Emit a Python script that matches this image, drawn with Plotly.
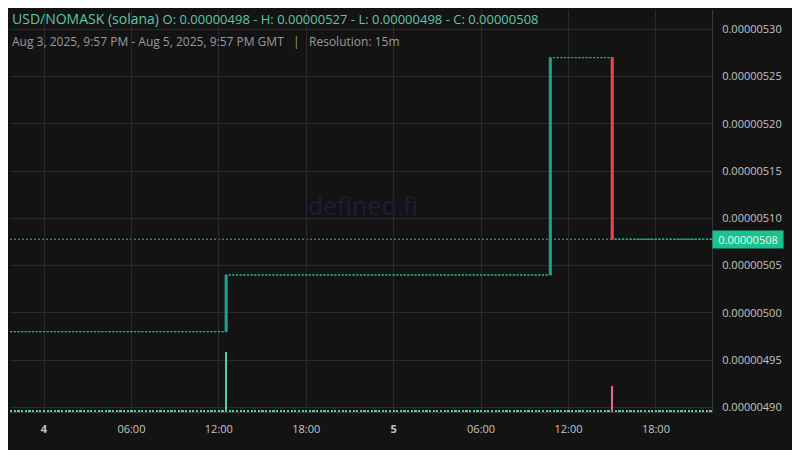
import pandas as pd
import plotly.graph_objects as go

# ---- data ----
first_candle = "2025-08-03 21:45"
last_candle = "2025-08-05 21:45"
start_price = 4.98e-6
move_times = ["2025-08-04 12:30", "2025-08-05 10:45", "2025-08-05 15:00"]
move_open = [4.98e-6, 5.04e-6, 5.27e-6]
move_close = [5.04e-6, 5.27e-6, 5.0778e-6]
move_volume = [1490, 40, 650]
flat_volume = 40

x_tickvals = ["2025-08-04 00:00", "2025-08-04 06:00", "2025-08-04 12:00", "2025-08-04 18:00",
              "2025-08-05 00:00", "2025-08-05 06:00", "2025-08-05 12:00", "2025-08-05 18:00"]
x_ticktext = ["<b>4</b>", "06:00", "12:00", "18:00", "<b>5</b>", "06:00", "12:00", "18:00"]
y_tickvals = [4.90e-6, 4.95e-6, 5.00e-6, 5.05e-6, 5.10e-6, 5.15e-6, 5.20e-6, 5.25e-6, 5.30e-6]
x_range = ["2025-08-03 21:40", "2025-08-05 21:51"]
y_range = [4.895e-6, 5.3204e-6]

# ---- build candles (flat slots keep the previous close) ----
times = pd.date_range(first_candle, last_candle, freq="15min")
moves = {pd.Timestamp(t): (o, c, v) for t, o, c, v in zip(move_times, move_open, move_close, move_volume)}
opens, closes, vols = [], [], []
last = start_price
for t in times:
    if t in moves:
        o, c, v = moves[t]
    else:
        o, c, v = last, last, flat_volume
    opens.append(o); closes.append(c); vols.append(v)
    last = c
highs = [max(o, c) for o, c in zip(opens, closes)]
lows = [min(o, c) for o, c in zip(opens, closes)]

up_idx = [i for i in range(len(times)) if closes[i] >= opens[i]]
dn_idx = [i for i in range(len(times)) if closes[i] < opens[i]]

TEAL = "#1fa58c"
RED = "#f0474f"
BG = "#131313"
GRID = "#2a2a2a"

fig = go.Figure()

fig.add_trace(go.Bar(
    x=times, y=vols, yaxis="y2",
    marker=dict(color=["#58c7ab" if closes[i] >= opens[i] else "#e9697f" for i in range(len(times))],
                line=dict(width=0)),
    width=15 * 60 * 1000 * 0.6, showlegend=False, hoverinfo="skip"))

def pick(arr, idx):
    return [arr[i] for i in idx]

fig.add_trace(go.Candlestick(
    x=pick(times, up_idx), open=pick(opens, up_idx), high=pick(highs, up_idx),
    low=pick(lows, up_idx), close=pick(closes, up_idx),
    increasing=dict(line=dict(color=TEAL, width=1), fillcolor=TEAL),
    decreasing=dict(line=dict(color=TEAL, width=1), fillcolor=TEAL),
    showlegend=False))
fig.add_trace(go.Candlestick(
    x=pick(times, dn_idx), open=pick(opens, dn_idx), high=pick(highs, dn_idx),
    low=pick(lows, dn_idx), close=pick(closes, dn_idx),
    increasing=dict(line=dict(color=RED, width=1), fillcolor=RED),
    decreasing=dict(line=dict(color=RED, width=1), fillcolor=RED),
    showlegend=False))

last_close = closes[-1]
fig.add_shape(type="line", xref="paper", x0=0, x1=1, yref="y", y0=last_close, y1=last_close,
              line=dict(color="#1fbf91", width=1, dash="2px,2px"), layer="below")

font = "Open Sans"
anns = [
    dict(x=0, y=(412 - 19) / 402, xanchor="left", yanchor="middle",
         text="<span style='font-size:14px'>USD/NOMASK (solana)</span> "
              "<span style='font-size:13px'>O: 0.00000498 - H: 0.00000527 - L: 0.00000498 - C: 0.00000508</span>",
         font=dict(color="#5cc8a8", family=font, size=14)),
    dict(x=0, y=(412 - 41) / 402, xanchor="left", yanchor="middle",
         text="Aug 3, 2025, 9:57 PM - Aug 5, 2025, 9:57 PM GMT &nbsp; | &nbsp; Resolution: 15m",
         font=dict(color="#9a9a9a", family=font, size=12)),
    dict(x=0.503, y=0.515, xanchor="center", yanchor="middle", text="defined.fi",
         font=dict(color="#1d1d3a", family=font, size=25)),
]
for a in anns:
    a.update(xref="paper", yref="paper", showarrow=False)
anns.append(dict(xref="paper", x=1.0, xanchor="left", yref="y", y=last_close, yanchor="middle",
                 text="0.00000508", showarrow=False, bgcolor="#19c28f", width=66, height=13,
                 borderpad=2, align="center", font=dict(color="#eaf7f1", family=font, size=11)))

# page body has an 8px margin, so the figure is 8px smaller and margins are reduced by 8px
fig.update_layout(
    width=792, height=442,
    margin=dict(l=2, r=88, t=2, b=38),
    paper_bgcolor=BG, plot_bgcolor=BG,
    boxgap=0.45, boxgroupgap=0,
    annotations=anns,
    bargap=0,
    xaxis=dict(type="date", range=x_range, rangeslider=dict(visible=False),
               tickvals=x_tickvals, ticktext=x_ticktext, showgrid=True, gridcolor=GRID, gridwidth=1,
               zeroline=False, showline=True, linecolor="#3a3a3a", linewidth=1,
               ticks="", ticklabelstandoff=7,
               tickfont=dict(color="#c4c4c4", family=font, size=11)),
    yaxis=dict(side="right", range=y_range, tickvals=y_tickvals, tickformat=".8f",
               showgrid=True, gridcolor=GRID, gridwidth=1, zeroline=False,
               showline=True, linecolor="#3a3a3a", linewidth=1, ticks="", ticklabelstandoff=7,
               tickfont=dict(color="#c4c4c4", family=font, size=11)),
    yaxis2=dict(overlaying="y", range=[0, 10000], visible=False, showgrid=False),
    hovermode=False,
)

fig.write_html("out.html")
